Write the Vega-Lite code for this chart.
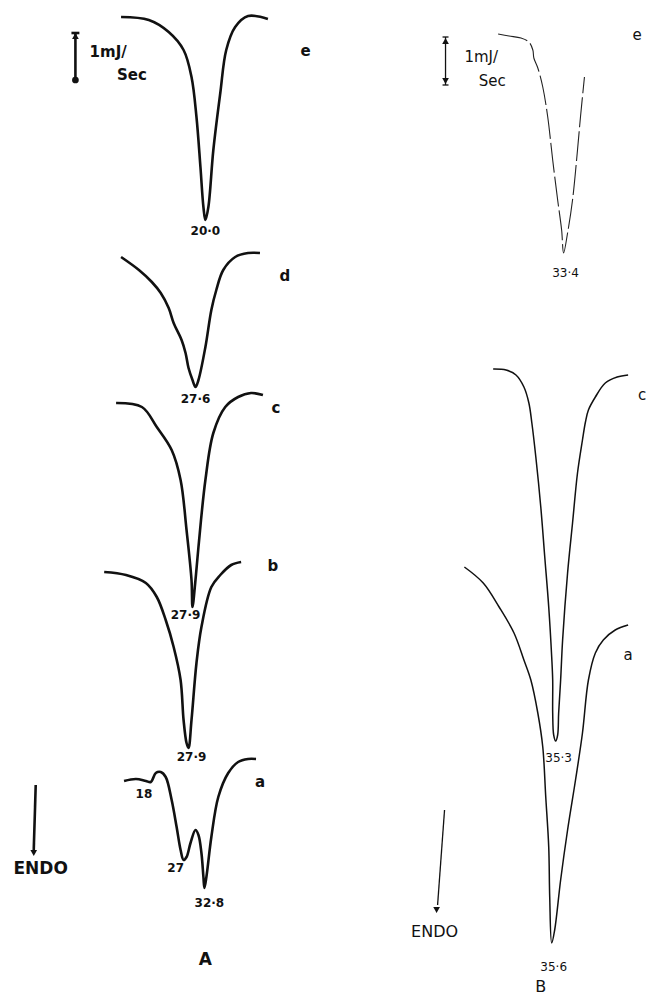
{
  "$schema": "https://vega.github.io/schema/vega-lite/v6.json",
  "width": 647,
  "height": 995,
  "autosize": {"type": "fit", "contains": "padding"},
  "padding": 0,
  "background": "white",
  "config": {"view": {"stroke": null}},
  "datasets": {
    "curves": [
      {"panel":"A","curve":"e","x":122,"y":17},{"panel":"A","curve":"e","x":150,"y":20},{"panel":"A","curve":"e","x":170,"y":32},{"panel":"A","curve":"e","x":185,"y":50},{"panel":"A","curve":"e","x":193,"y":77},{"panel":"A","curve":"e","x":198,"y":117},{"panel":"A","curve":"e","x":202,"y":167},{"panel":"A","curve":"e","x":205,"y":207},{"panel":"A","curve":"e","x":207,"y":220},{"panel":"A","curve":"e","x":210,"y":207},{"panel":"A","curve":"e","x":215,"y":150},{"panel":"A","curve":"e","x":222,"y":93},{"panel":"A","curve":"e","x":228,"y":50},{"panel":"A","curve":"e","x":237,"y":27},{"panel":"A","curve":"e","x":250,"y":16},{"panel":"A","curve":"e","x":270,"y":19},
      {"panel":"A","curve":"d","x":122,"y":257},{"panel":"A","curve":"d","x":140,"y":270},{"panel":"A","curve":"d","x":153,"y":282},{"panel":"A","curve":"d","x":162,"y":293},{"panel":"A","curve":"d","x":170,"y":308},{"panel":"A","curve":"d","x":175,"y":323},{"panel":"A","curve":"d","x":183,"y":340},{"panel":"A","curve":"d","x":187,"y":353},{"panel":"A","curve":"d","x":190,"y":368},{"panel":"A","curve":"d","x":194,"y":380},{"panel":"A","curve":"d","x":197,"y":387},{"panel":"A","curve":"d","x":200,"y":380},{"panel":"A","curve":"d","x":207,"y":347},{"panel":"A","curve":"d","x":213,"y":310},{"panel":"A","curve":"d","x":218,"y":290},{"panel":"A","curve":"d","x":225,"y":270},{"panel":"A","curve":"d","x":237,"y":257},{"panel":"A","curve":"d","x":250,"y":253},{"panel":"A","curve":"d","x":262,"y":253},
      {"panel":"A","curve":"c","x":117,"y":403},{"panel":"A","curve":"c","x":143,"y":407},{"panel":"A","curve":"c","x":158,"y":427},{"panel":"A","curve":"c","x":173,"y":450},{"panel":"A","curve":"c","x":182,"y":480},{"panel":"A","curve":"c","x":188,"y":530},{"panel":"A","curve":"c","x":193,"y":580},{"panel":"A","curve":"c","x":194,"y":607},{"panel":"A","curve":"c","x":197,"y":580},{"panel":"A","curve":"c","x":200,"y":547},{"panel":"A","curve":"c","x":207,"y":480},{"panel":"A","curve":"c","x":215,"y":433},{"panel":"A","curve":"c","x":227,"y":407},{"panel":"A","curve":"c","x":240,"y":397},{"panel":"A","curve":"c","x":253,"y":393},{"panel":"A","curve":"c","x":265,"y":395},
      {"panel":"A","curve":"b","x":105,"y":572},{"panel":"A","curve":"b","x":127,"y":575},{"panel":"A","curve":"b","x":147,"y":583},{"panel":"A","curve":"b","x":158,"y":597},{"panel":"A","curve":"b","x":167,"y":620},{"panel":"A","curve":"b","x":175,"y":647},{"panel":"A","curve":"b","x":182,"y":680},{"panel":"A","curve":"b","x":185,"y":720},{"panel":"A","curve":"b","x":188,"y":743},{"panel":"A","curve":"b","x":190,"y":748},{"panel":"A","curve":"b","x":193,"y":720},{"panel":"A","curve":"b","x":198,"y":663},{"panel":"A","curve":"b","x":203,"y":627},{"panel":"A","curve":"b","x":213,"y":587},{"panel":"A","curve":"b","x":222,"y":575},{"panel":"A","curve":"b","x":233,"y":565},{"panel":"A","curve":"b","x":243,"y":562},
      {"panel":"A","curve":"a","x":125,"y":781},{"panel":"A","curve":"a","x":137,"y":779},{"panel":"A","curve":"a","x":147,"y":781},{"panel":"A","curve":"a","x":152,"y":782},{"panel":"A","curve":"a","x":157,"y":773},{"panel":"A","curve":"a","x":162,"y":772},{"panel":"A","curve":"a","x":167,"y":777},{"panel":"A","curve":"a","x":173,"y":800},{"panel":"A","curve":"a","x":178,"y":827},{"panel":"A","curve":"a","x":182,"y":850},{"panel":"A","curve":"a","x":185,"y":860},{"panel":"A","curve":"a","x":188,"y":857},{"panel":"A","curve":"a","x":192,"y":843},{"panel":"A","curve":"a","x":197,"y":830},{"panel":"A","curve":"a","x":200,"y":835},{"panel":"A","curve":"a","x":203,"y":853},{"panel":"A","curve":"a","x":205,"y":877},{"panel":"A","curve":"a","x":206,"y":888},{"panel":"A","curve":"a","x":208,"y":877},{"panel":"A","curve":"a","x":213,"y":837},{"panel":"A","curve":"a","x":220,"y":797},{"panel":"A","curve":"a","x":230,"y":773},{"panel":"A","curve":"a","x":240,"y":762},{"panel":"A","curve":"a","x":250,"y":759},{"panel":"A","curve":"a","x":258,"y":759},
      {"panel":"B","curve":"e","x":502,"y":34},{"panel":"B","curve":"e","x":513,"y":36},{"panel":"B","curve":"e","x":525,"y":38},{"panel":"B","curve":"e","x":533,"y":42},{"panel":"B","curve":"e","x":537,"y":50},{"panel":"B","curve":"e","x":538,"y":58},{"panel":"B","curve":"e","x":542,"y":68},{"panel":"B","curve":"e","x":547,"y":87},{"panel":"B","curve":"e","x":552,"y":117},{"panel":"B","curve":"e","x":557,"y":160},{"panel":"B","curve":"e","x":562,"y":200},{"panel":"B","curve":"e","x":566,"y":230},{"panel":"B","curve":"e","x":568,"y":253},{"panel":"B","curve":"e","x":572,"y":233},{"panel":"B","curve":"e","x":577,"y":200},{"panel":"B","curve":"e","x":582,"y":150},{"panel":"B","curve":"e","x":585,"y":117},{"panel":"B","curve":"e","x":589,"y":77},
      {"panel":"B","curve":"c","x":497,"y":369},{"panel":"B","curve":"c","x":510,"y":370},{"panel":"B","curve":"c","x":520,"y":375},{"panel":"B","curve":"c","x":528,"y":387},{"panel":"B","curve":"c","x":533,"y":403},{"panel":"B","curve":"c","x":536,"y":423},{"panel":"B","curve":"c","x":540,"y":457},{"panel":"B","curve":"c","x":545,"y":507},{"panel":"B","curve":"c","x":549,"y":557},{"panel":"B","curve":"c","x":553,"y":607},{"panel":"B","curve":"c","x":556,"y":657},{"panel":"B","curve":"c","x":557,"y":680},{"panel":"B","curve":"c","x":557,"y":713},{"panel":"B","curve":"c","x":558,"y":735},{"panel":"B","curve":"c","x":560,"y":741},{"panel":"B","curve":"c","x":562,"y":735},{"panel":"B","curve":"c","x":563,"y":713},{"panel":"B","curve":"c","x":565,"y":680},{"panel":"B","curve":"c","x":567,"y":640},{"panel":"B","curve":"c","x":572,"y":573},{"panel":"B","curve":"c","x":577,"y":523},{"panel":"B","curve":"c","x":582,"y":473},{"panel":"B","curve":"c","x":587,"y":440},{"panel":"B","curve":"c","x":590,"y":422},{"panel":"B","curve":"c","x":593,"y":410},{"panel":"B","curve":"c","x":600,"y":397},{"panel":"B","curve":"c","x":610,"y":383},{"panel":"B","curve":"c","x":622,"y":377},{"panel":"B","curve":"c","x":633,"y":375},
      {"panel":"B","curve":"a","x":468,"y":567},{"panel":"B","curve":"a","x":487,"y":583},{"panel":"B","curve":"a","x":503,"y":607},{"panel":"B","curve":"a","x":518,"y":633},{"panel":"B","curve":"a","x":528,"y":660},{"panel":"B","curve":"a","x":535,"y":680},{"panel":"B","curve":"a","x":542,"y":713},{"panel":"B","curve":"a","x":547,"y":747},{"panel":"B","curve":"a","x":550,"y":797},{"panel":"B","curve":"a","x":553,"y":847},{"panel":"B","curve":"a","x":554,"y":897},{"panel":"B","curve":"a","x":556,"y":943},{"panel":"B","curve":"a","x":559,"y":930},{"panel":"B","curve":"a","x":565,"y":880},{"panel":"B","curve":"a","x":572,"y":830},{"panel":"B","curve":"a","x":580,"y":780},{"panel":"B","curve":"a","x":587,"y":733},{"panel":"B","curve":"a","x":593,"y":680},{"panel":"B","curve":"a","x":600,"y":653},{"panel":"B","curve":"a","x":608,"y":640},{"panel":"B","curve":"a","x":620,"y":630},{"panel":"B","curve":"a","x":633,"y":625}
    ],
    "rules": [
      {"panel":"A","x":76,"y":33,"x2":76,"y2":82},
      {"panel":"A","x":72,"y":33,"x2":80,"y2":33},
      {"panel":"A","x":36,"y":785,"x2":34,"y2":850},
      {"panel":"B","x":449,"y":37,"x2":449,"y2":85},
      {"panel":"B","x":446,"y":37,"x2":452,"y2":37},
      {"panel":"B","x":446,"y":85,"x2":452,"y2":85},
      {"panel":"B","x":448,"y":810,"x2":441,"y2":905}
    ],
    "heads": [
      {"panel":"A","dir":"down","x":34,"y":853},
      {"panel":"A","dir":"up","x":76,"y":36},
      {"panel":"A","dir":"circle","x":76,"y":80},
      {"panel":"B","dir":"up","x":449,"y":41},
      {"panel":"B","dir":"down","x":449,"y":81},
      {"panel":"B","dir":"down","x":440,"y":910}
    ],
    "labels": [
      {"panel":"A","kind":"peak","text":"20·0","x":207,"y":231},
      {"panel":"A","kind":"peak","text":"27·6","x":197,"y":399},
      {"panel":"A","kind":"peak","text":"27·9","x":187,"y":615},
      {"panel":"A","kind":"peak","text":"27·9","x":193,"y":757},
      {"panel":"A","kind":"peak","text":"18","x":145,"y":794},
      {"panel":"A","kind":"peak","text":"27","x":177,"y":868},
      {"panel":"A","kind":"peak","text":"32·8","x":211,"y":903},
      {"panel":"A","kind":"letter","text":"e","x":308,"y":51},
      {"panel":"A","kind":"letter","text":"d","x":287,"y":276},
      {"panel":"A","kind":"letter","text":"c","x":278,"y":408},
      {"panel":"A","kind":"letter","text":"b","x":275,"y":566},
      {"panel":"A","kind":"letter","text":"a","x":262,"y":782},
      {"panel":"A","kind":"unit","text":"1mJ/","x":109,"y":52},
      {"panel":"A","kind":"unit","text":"Sec","x":133,"y":75},
      {"panel":"A","kind":"big","text":"ENDO","x":41,"y":869},
      {"panel":"A","kind":"big","text":"A","x":207,"y":960},
      {"panel":"B","kind":"peak","text":"33·4","x":570,"y":273},
      {"panel":"B","kind":"peak","text":"35·3","x":563,"y":758},
      {"panel":"B","kind":"peak","text":"35·6","x":558,"y":967},
      {"panel":"B","kind":"letter","text":"e","x":642,"y":35},
      {"panel":"B","kind":"letter","text":"c","x":647,"y":395},
      {"panel":"B","kind":"letter","text":"a","x":633,"y":655},
      {"panel":"B","kind":"unit","text":"1mJ/","x":485,"y":57},
      {"panel":"B","kind":"unit","text":"Sec","x":496,"y":81},
      {"panel":"B","kind":"big","text":"ENDO","x":438,"y":932},
      {"panel":"B","kind":"big","text":"B","x":545,"y":987}
    ]
  },
  "layer": [
    {
      "data": {"name": "curves"},
      "transform": [{"filter": "datum.panel === 'A'"}],
      "mark": {"type": "line", "color": "#111", "strokeWidth": 2.6, "interpolate": "catmull-rom"},
      "encoding": {
        "x": {"field": "x", "type": "quantitative", "scale": {"domain": [0, 647], "nice": false, "zero": false}, "axis": null},
        "y": {"field": "y", "type": "quantitative", "scale": {"domain": [0, 995], "nice": false, "zero": false, "reverse": true}, "axis": null},
        "detail": {"field": "curve"},
        "order": {"value": null}
      }
    },
    {
      "data": {"name": "curves"},
      "transform": [{"filter": "datum.panel === 'B' && datum.curve !== 'e'"}],
      "mark": {"type": "line", "color": "#111", "strokeWidth": 1.5, "interpolate": "catmull-rom"},
      "encoding": {
        "x": {"field": "x", "type": "quantitative"},
        "y": {"field": "y", "type": "quantitative"},
        "detail": {"field": "curve"},
        "order": {"value": null}
      }
    },
    {
      "data": {"name": "curves"},
      "transform": [{"filter": "datum.panel === 'B' && datum.curve === 'e'"}],
      "mark": {"type": "line", "color": "#222", "strokeWidth": 1.1, "strokeDash": [30, 4], "interpolate": "catmull-rom"},
      "encoding": {
        "x": {"field": "x", "type": "quantitative"},
        "y": {"field": "y", "type": "quantitative"},
        "order": {"value": null}
      }
    },
    {
      "data": {"name": "rules"},
      "transform": [{"filter": "datum.panel === 'A'"}],
      "mark": {"type": "rule", "color": "#111", "strokeWidth": 2.6},
      "encoding": {
        "x": {"field": "x", "type": "quantitative"},
        "y": {"field": "y", "type": "quantitative"},
        "x2": {"field": "x2"},
        "y2": {"field": "y2"}
      }
    },
    {
      "data": {"name": "rules"},
      "transform": [{"filter": "datum.panel === 'B'"}],
      "mark": {"type": "rule", "color": "#111", "strokeWidth": 1.3},
      "encoding": {
        "x": {"field": "x", "type": "quantitative"},
        "y": {"field": "y", "type": "quantitative"},
        "x2": {"field": "x2"},
        "y2": {"field": "y2"}
      }
    },
    {
      "data": {"name": "heads"},
      "mark": {"type": "point", "filled": true, "color": "#111", "opacity": 1, "size": 45},
      "encoding": {
        "x": {"field": "x", "type": "quantitative"},
        "y": {"field": "y", "type": "quantitative"},
        "shape": {"field": "dir", "type": "nominal", "scale": {"domain": ["up", "down", "circle"], "range": ["triangle-up", "triangle-down", "circle"]}, "legend": null}
      }
    },
    {
      "data": {"name": "labels"},
      "transform": [{"filter": "datum.panel === 'A' && datum.kind === 'peak'"}],
      "mark": {"type": "text", "font": "DejaVu Sans", "fontWeight": "bold", "fontSize": 12, "color": "#111", "align": "center", "baseline": "middle"},
      "encoding": {"x": {"field": "x", "type": "quantitative"}, "y": {"field": "y", "type": "quantitative"}, "text": {"field": "text"}}
    },
    {
      "data": {"name": "labels"},
      "transform": [{"filter": "datum.panel === 'A' && (datum.kind === 'letter' || datum.kind === 'unit')"}],
      "mark": {"type": "text", "font": "DejaVu Sans", "fontWeight": "bold", "fontSize": 15, "color": "#111", "align": "center", "baseline": "middle"},
      "encoding": {"x": {"field": "x", "type": "quantitative"}, "y": {"field": "y", "type": "quantitative"}, "text": {"field": "text"}}
    },
    {
      "data": {"name": "labels"},
      "transform": [{"filter": "datum.panel === 'A' && datum.kind === 'big'"}],
      "mark": {"type": "text", "font": "DejaVu Sans", "fontWeight": "bold", "fontSize": 17, "color": "#111", "align": "center", "baseline": "middle"},
      "encoding": {"x": {"field": "x", "type": "quantitative"}, "y": {"field": "y", "type": "quantitative"}, "text": {"field": "text"}}
    },
    {
      "data": {"name": "labels"},
      "transform": [{"filter": "datum.panel === 'B' && datum.kind === 'peak'"}],
      "mark": {"type": "text", "font": "DejaVu Sans", "fontSize": 12, "color": "#111", "align": "center", "baseline": "middle"},
      "encoding": {"x": {"field": "x", "type": "quantitative"}, "y": {"field": "y", "type": "quantitative"}, "text": {"field": "text"}}
    },
    {
      "data": {"name": "labels"},
      "transform": [{"filter": "datum.panel === 'B' && (datum.kind === 'letter' || datum.kind === 'unit')"}],
      "mark": {"type": "text", "font": "DejaVu Sans", "fontSize": 15, "color": "#111", "align": "center", "baseline": "middle"},
      "encoding": {"x": {"field": "x", "type": "quantitative"}, "y": {"field": "y", "type": "quantitative"}, "text": {"field": "text"}}
    },
    {
      "data": {"name": "labels"},
      "transform": [{"filter": "datum.panel === 'B' && datum.kind === 'big'"}],
      "mark": {"type": "text", "font": "DejaVu Sans", "fontSize": 16, "color": "#111", "align": "center", "baseline": "middle"},
      "encoding": {"x": {"field": "x", "type": "quantitative"}, "y": {"field": "y", "type": "quantitative"}, "text": {"field": "text"}}
    }
  ]
}
